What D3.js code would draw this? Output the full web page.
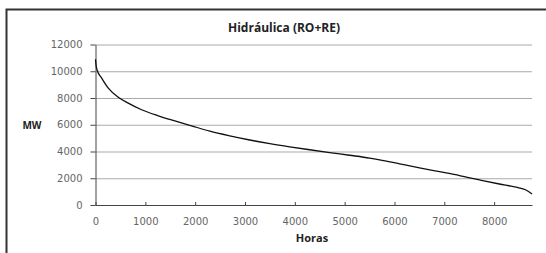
<!DOCTYPE html>
<html>
<head>
<meta charset="utf-8">
<script src="https://cdn.jsdelivr.net/npm/d3@7"></script>
<style>
  html, body { margin: 0; padding: 0; background: #fff; }
  svg { display: block; font-family: "Open Sans", "Noto Sans", sans-serif; }
</style>
</head>
<body>
<div id="chart"></div>
<script>
// curva de duração
const horas = [0, 10, 30, 124, 257, 457, 657, 925, 1260, 1593, 1928, 2295, 2695, 3096, 3497,
  3898, 4299, 4700, 5100, 5501, 5701, 6102, 6503, 6904, 7305, 7705, 8106, 8440, 8640, 8760];
const mw = [10900, 10500, 10110, 9490, 8740, 8060, 7620, 7120, 6670, 6290, 5920, 5520, 5170, 4860, 4590,
  4350, 4130, 3920, 3720, 3510, 3380, 3080, 2780, 2490, 2200, 1880, 1570, 1330, 1120, 820];
const yTicks = [0, 2000, 4000, 6000, 8000, 10000, 12000];
const xTicks = [0, 1000, 2000, 3000, 4000, 5000, 6000, 7000, 8000];

const W = 546, H = 253;
const mg = { top: 44.5, right: 14, bottom: 48, left: 95.5 };
const iw = W - mg.left - mg.right;
const ih = H - mg.top - mg.bottom;
const tickFont = '"DejaVu Sans", sans-serif';

const svg = d3.select("#chart").append("svg").attr("width", W).attr("height", H);

// moldura
svg.append("rect").attr("x", 6.5).attr("y", 9.5).attr("width", W).attr("height", H)
  .attr("fill", "none").attr("stroke", "#333").attr("stroke-width", 2);

const g = svg.append("g").attr("transform", `translate(${mg.left},${mg.top})`);

const x = d3.scaleLinear().domain([0, 8760]).range([0, iw]);
const y = d3.scaleLinear().domain([0, 12000]).range([ih, 0]);

// grelha
g.append("g")
  .call(d3.axisLeft(y).tickValues(yTicks.slice(1)).tickSize(-iw).tickFormat(""))
  .call(s => s.select(".domain").remove())
  .selectAll("line").style("stroke", "#aaa");

// eixo y
const ya = g.append("g").call(d3.axisLeft(y).tickValues(yTicks).tickFormat(d3.format("d"))
  .tickSize(5).tickPadding(8).tickSizeOuter(0));
ya.select(".domain").style("stroke", "#444");
ya.selectAll("line").style("stroke", "#444");
ya.selectAll("text").style("fill", "#666").style("font-size", "10px").style("font-family", tickFont);

// eixo x
const xa = g.append("g").attr("transform", `translate(0,${ih})`)
  .call(d3.axisBottom(x).tickValues(xTicks).tickFormat(d3.format("d"))
    .tickSize(0).tickPadding(13).tickSizeOuter(0));
xa.select(".domain").style("stroke", "#444");
xa.selectAll("text").style("fill", "#666").style("font-size", "10px").style("font-family", tickFont);
xa.selectAll(".tick").append("line").attr("y1", -3).attr("y2", 1).style("stroke", "#444");

// curva
const data = horas.map((h, i) => ({ h, v: mw[i] }));
g.append("path").datum(data)
  .attr("fill", "none").attr("stroke", "#111").attr("stroke-width", 1.3)
  .attr("d", d3.line().x(d => x(d.h)).y(d => y(d.v)).curve(d3.curveMonotoneX));

// textos
svg.append("text").text("Hidráulica (RO+RE)")
  .attr("x", 284).attr("y", 32).attr("text-anchor", "middle")
  .style("font-size", "12px").style("font-weight", "700").style("fill", "#222");
svg.append("text").text("MW")
  .attr("x", 32).attr("y", 129).attr("text-anchor", "middle")
  .style("font-size", "10px").style("font-weight", "700").style("fill", "#222");
svg.append("text").text("Horas")
  .attr("x", 312).attr("y", 242).attr("text-anchor", "middle")
  .style("font-size", "11px").style("font-weight", "700").style("fill", "#222");
</script>
</body>
</html>
